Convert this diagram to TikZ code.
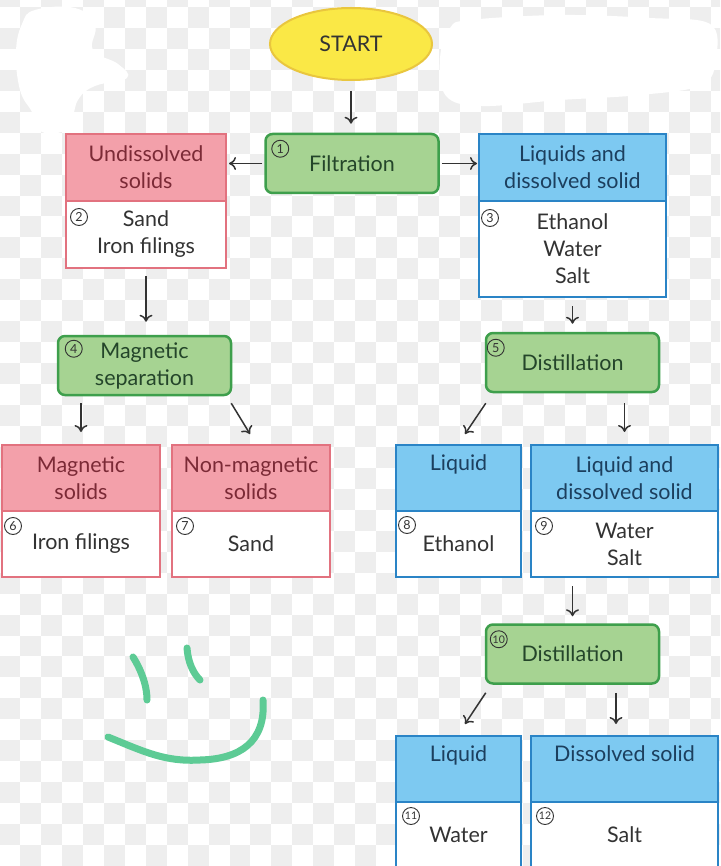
\documentclass[tikz,border=0pt]{standalone}
\usepackage{fontspec}
\setmainfont{Lato}
\usetikzlibrary{arrows.meta,calc,shapes.geometric}
\definecolor{checker}{HTML}{EEEEEE}
\definecolor{pinkfill}{HTML}{F3A0AA}
\definecolor{pinkline}{HTML}{E2727F}
\definecolor{pinktext}{HTML}{7B2A36}
\definecolor{bluefill}{HTML}{7DC9F1}
\definecolor{blueline}{HTML}{2A84C6}
\definecolor{bluetext}{HTML}{1C3F5E}
\definecolor{greenfill}{HTML}{A6D392}
\definecolor{greenline}{HTML}{3E9F4C}
\definecolor{greentext}{HTML}{24452A}
\definecolor{yellowfill}{HTML}{FAE846}
\definecolor{yellowline}{HTML}{E9C63E}
\definecolor{bodytext}{HTML}{333333}
\definecolor{smilegreen}{HTML}{5DCB95}
\definecolor{arrowgray}{HTML}{333333}
\begin{document}
\begin{tikzpicture}[x=1pt,y=-1pt,
  txt/.style={font=\fontsize{21.5}{27}\selectfont, align=center, inner sep=0pt},
  hdrpink/.style={txt, draw=pinkline, line width=2pt, fill=pinkfill, text=pinktext},
  bodypink/.style={txt, draw=pinkline, line width=2pt, fill=white, text=bodytext},
  hdrblue/.style={txt, draw=blueline, line width=2pt, fill=bluefill, text=bluetext},
  bodyblue/.style={txt, draw=blueline, line width=2pt, fill=white, text=bodytext},
  procbox/.style={txt, draw=greenline, line width=2.5pt, fill=greenfill, text=greentext, rounded corners=7pt, minimum width=173pt, minimum height=59pt},
  numc/.style={circle, draw=bodytext, line width=0.9pt, inner sep=0pt, minimum size=17pt, text=bodytext, font=\fontsize{12.5}{12.5}\selectfont},
  numcs/.style={numc, font=\fontsize{10.5}{10.5}\selectfont},
  arr/.style={draw=arrowgray, line width=1.5pt, -{To[length=7pt,width=13pt]}},
  smile/.style={draw=smilegreen, line width=7pt, line cap=round}
]
\useasboundingbox (0,0) rectangle (720,866);
\clip (0,0) rectangle (720,866);
\fill[white] (0,0) rectangle (720,866);
% checkerboard background
\foreach \j in {-1,...,41} {
  \foreach \i in {0,...,35} {
    \pgfmathtruncatemacro\cellparity{mod(\i+\j+2,2)}
    \ifnum\cellparity=1
      \fill[checker] ({-0.95+\i*20.95},{7+\j*20.95}) rectangle +(20.95,20.95);
    \fi
  }
}
% white scribbles
\fill[white] plot[smooth cycle, tension=0.7] coordinates {(35,10) (75,8) (95,25) (93,50) (118,64) (127,78) (95,86) (78,100) (68,128) (42,132) (32,112) (20,90) (16,52) (22,24)};
\fill[white] plot[smooth cycle, tension=0.6] coordinates {(470,20) (560,15) (650,18) (710,24) (716,58) (702,85) (640,95) (560,100) (482,106) (446,96) (440,58) (450,28)};

% START
\node[ellipse, draw=yellowline, line width=2pt, fill=yellowfill, minimum width=162pt, minimum height=72pt, txt, text=bodytext] (start) at (351,44) {START};

% Filtration
\node[procbox] (filt) at (352,163.5) {Filtration};
\node[numc] (n1) at ([shift={(16,16)}]filt.north west) {1};

% Undissolved solids
\node[hdrpink, minimum width=160pt, minimum height=67pt] (undh) at (146,167.5) {Undissolved\\solids};
\node[bodypink, minimum width=160pt, minimum height=67pt] (undb) at (146,234.5) {Sand\\Iron filings};
\node[numc] (n2) at ([shift={(14,17)}]undb.north west) {2};

% Liquids and dissolved solid
\node[hdrblue, minimum width=187pt, minimum height=67pt] (liqh) at (572.5,167.5) {Liquids and\\dissolved solid};
\node[bodyblue, minimum width=187pt, minimum height=96pt] (liqb) at (572.5,249) {Ethanol\\Water\\Salt};
\node[numc] (n3) at ([shift={(12,18)}]liqb.north west) {3};

% Magnetic separation
\node[procbox] (magsep) at (144.5,365.5) {Magnetic\\separation};
\node[numc] (n4) at ([shift={(17,14)}]magsep.north west) {4};

% Distillation 5
\node[procbox] (dist5) at (572.5,362.5) {Distillation};
\node[numc] (n5) at ([shift={(11,16)}]dist5.north west) {5};

% Magnetic solids
\node[hdrpink, minimum width=158pt, minimum height=66pt] (magh) at (81,478) {Magnetic\\solids};
\node[bodypink, minimum width=158pt, minimum height=66pt] (magb) at (81,544) {Iron filings};
\node[numc] (n6) at ([shift={(12,16)}]magb.north west) {6};

% Non-magnetic solids
\node[hdrpink, minimum width=158pt, minimum height=66pt] (nonh) at (251,478) {Non-magnetic\\solids};
\node[bodypink, minimum width=158pt, minimum height=66pt] (nonb) at (251,544) {Sand};
\node[numc] (n7) at ([shift={(14,16)}]nonb.north west) {7};

% Liquid (8)
\node[hdrblue, minimum width=125pt, minimum height=66pt] (l8h) at (458.5,478) {Liquid\\\phantom{Liquid}};
\node[bodyblue, minimum width=125pt, minimum height=66pt] (l8b) at (458.5,544) {Ethanol};
\node[numc] (n8) at ([shift={(12,15)}]l8b.north west) {8};

% Liquid and dissolved solid (9)
\node[hdrblue, minimum width=187pt, minimum height=66pt] (l9h) at (624.5,478) {Liquid and\\dissolved solid};
\node[bodyblue, minimum width=187pt, minimum height=66pt] (l9b) at (624.5,544) {Water\\Salt};
\node[numc] (n9) at ([shift={(14,16)}]l9b.north west) {9};

% Distillation 10
\node[procbox] (dist10) at (572.5,654) {Distillation};
\node[numcs] (n10) at ([shift={(14,16)}]dist10.north west) {10};

% Liquid (11)
\node[hdrblue, minimum width=125pt, minimum height=66pt] (l11h) at (458.5,769) {Liquid\\\phantom{Liquid}};
\node[bodyblue, minimum width=125pt, minimum height=66pt] (l11b) at (458.5,835) {Water};
\node[numcs] (n11) at ([shift={(16,15)}]l11b.north west) {11};

% Dissolved solid (12)
\node[hdrblue, minimum width=187pt, minimum height=66pt] (l12h) at (624.5,769) {Dissolved solid\\\phantom{Liquid}};
\node[bodyblue, minimum width=187pt, minimum height=66pt] (l12b) at (624.5,835) {Salt};
\node[numcs] (n12) at ([shift={(15,15)}]l12b.north west) {12};

% arrows
\draw[arr, shorten <=10pt, shorten >=9pt] (start.south) -- (start.south |- filt.north);
\draw[arr, shorten <=2pt, shorten >=2pt] (filt.west) -- (filt.west -| undh.east);
\draw[arr, shorten <=2pt, shorten >=1pt] (filt.east) -- (filt.east -| liqh.west);
\draw[arr, shorten <=7pt, shorten >=13pt] (undb.south) -- (undb.south |- magsep.north);
\draw[arr, shorten <=8pt, shorten >=8pt] (liqb.south) -- (liqb.south |- dist5.north);
\draw[arr, shorten <=7pt, shorten >=12pt] (magsep.south -| magh.north) -- (magh.north);
\draw[arr] ([shift={(-1,7)}]magsep.south east) -- ([shift={(-1,-10)}]nonh.north);
\draw[arr] ([shift={(1,10)}]dist5.south west) -- ([shift={(6.5,-10)}]l8h.north);
\draw[arr, shorten <=10pt, shorten >=12pt] (dist5.south -| l9h.north) -- (l9h.north);
\draw[arr, shorten <=8pt, shorten >=7pt] (dist10.north |- l9b.south) -- (dist10.north);
\draw[arr] ([shift={(1,8)}]dist10.south west) -- ([shift={(6.5,-11)}]l11h.north);
\draw[arr] ([shift={(43.5,8)}]dist10.south) -- ([shift={(43.5,-11)}]dist10.south |- l12h.north);

% smiley
\draw[smile] (133,657) .. controls (140,668) and (147,684) .. (147,700);
\draw[smile] (187,648) .. controls (188,662) and (193,673) .. (200,680);
\draw[smile] (108,737) .. controls (145,752) and (165,762) .. (200,760) .. controls (240,759) and (266,742) .. (263,700);
\end{tikzpicture}
\end{document}
